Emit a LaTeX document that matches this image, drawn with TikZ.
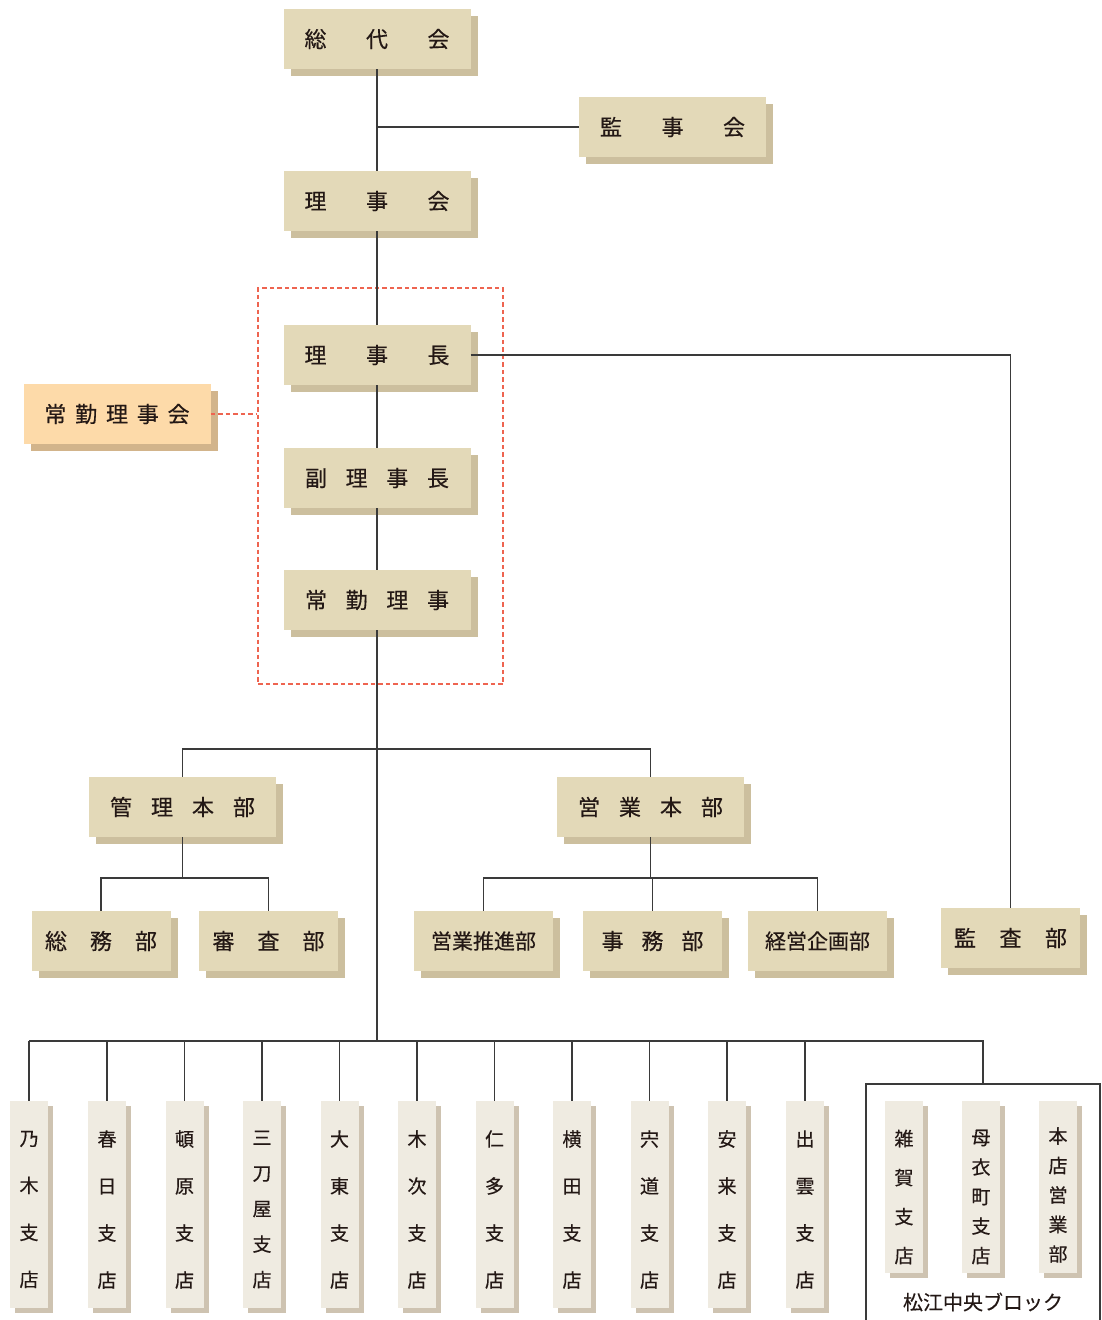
\documentclass[tikz,border=0pt]{standalone}
\usepackage{fontspec}
\newfontfamily\jp{Noto Sans CJK JP}[FakeBold=0.4]
\usetikzlibrary{shadows}
\definecolor{boxfill}{HTML}{E3D9B8}
\definecolor{boxshadow}{HTML}{CCBF9E}
\definecolor{orfill}{HTML}{FDDAA9}
\definecolor{orshadow}{HTML}{D2B48B}
\definecolor{brfill}{HTML}{EFEBE1}
\definecolor{brshadow}{HTML}{CEC3B1}
\definecolor{redd}{HTML}{EE6450}
\definecolor{linec}{HTML}{3A3A3A}
\definecolor{txt}{HTML}{231815}
\begin{document}
\begin{tikzpicture}[x=1pt,y=-1pt,
  conn/.style={draw=linec, line width=1.2pt},
  mainbox/.style={rectangle, fill=boxfill, minimum width=187pt, minimum height=60pt, inner sep=0pt, text=txt,
    font=\jp\fontsize{22}{22}\selectfont,
    general shadow={fill=boxshadow, shadow xshift=7pt, shadow yshift=-7pt}},
  subbox/.style={mainbox, minimum width=139pt},
  orbox/.style={mainbox, fill=orfill, general shadow={fill=orshadow, shadow xshift=7pt, shadow yshift=-7pt}},
  branch/.style={rectangle, fill=brfill, minimum width=38pt, minimum height=207pt, inner sep=0pt,
    general shadow={fill=brshadow, shadow xshift=5pt, shadow yshift=-5pt}},
  blockbr/.style={branch, minimum height=172pt},
  vtext/.style={inner sep=0pt, text=txt, align=center},
  redframe/.style={draw=redd, line width=1.2pt, dash pattern=on 4.5pt off 3pt}
]
\useasboundingbox (0,0) rectangle (1101,1320);

% dashed frame
\node[redframe, rectangle, minimum width=245pt, minimum height=396pt, inner sep=0pt] (frame) at (380.5,486) {};

% block frame
\node[draw=linec, line width=1.2pt, rectangle, minimum width=234pt, minimum height=246pt, inner sep=0pt] (block) at (983,1207) {};

% coordinates for junctions
\coordinate (h1) at (378,749);
\coordinate (h2) at (378,878);
\coordinate (bh) at (378,1041);

% main boxes
\node[mainbox] (sodai) at (377,39) {総\hspace{39.5pt}代\hspace{39.5pt}会};
\node[mainbox] (kanjikai) at (672.5,127) {監\hspace{39.5pt}事\hspace{39.5pt}会};
\node[mainbox] (rijikai) at (377,201) {理\hspace{39.5pt}事\hspace{39.5pt}会};
\node[mainbox] (richo) at (377,355) {理\hspace{39.5pt}事\hspace{39.5pt}長};
\node[mainbox] (fukuricho) at (377,478) {副\hspace{18.7pt}理\hspace{18.7pt}事\hspace{18.7pt}長};
\node[mainbox] (jomu) at (377,600) {常\hspace{18.7pt}勤\hspace{18.7pt}理\hspace{18.7pt}事};
\node[orbox, minimum width=187pt] (jokai) at (117,414) {常\hspace{8.8pt}勤\hspace{8.8pt}理\hspace{8.8pt}事\hspace{8.8pt}会};

\node[mainbox] (kanri) at (182.5,807) {管\hspace{19pt}理\hspace{19pt}本\hspace{19pt}部};
\node[mainbox] (eigyo) at (650.5,807) {営\hspace{19pt}業\hspace{19pt}本\hspace{19pt}部};

\node[subbox] (somu) at (101,941) {総\hspace{23pt}務\hspace{23pt}部};
\node[subbox] (shinsa) at (268.5,941) {審\hspace{23pt}査\hspace{23pt}部};
\node[subbox, font=\jp\fontsize{21}{21}\selectfont] (suishin) at (483.5,941) {営業推進部};
\node[subbox] (jimu) at (652.5,941) {事\hspace{18pt}務\hspace{18pt}部};
\node[subbox, font=\jp\fontsize{21}{21}\selectfont] (keiei) at (817.5,941) {経営企画部};
\node[subbox] (kansa) at (1010.5,938) {監\hspace{23.5pt}査\hspace{23.5pt}部};

% branches
\node[branch] (b1) at (29,1204.5) {};
\node[branch] (b2) at (107,1204.5) {};
\node[branch] (b3) at (184.5,1204.5) {};
\node[branch] (b4) at (262,1204.5) {};
\node[branch] (b5) at (339.5,1204.5) {};
\node[branch] (b6) at (417,1204.5) {};
\node[branch] (b7) at (494.5,1204.5) {};
\node[branch] (b8) at (572,1204.5) {};
\node[branch] (b9) at (649.5,1204.5) {};
\node[branch] (b10) at (727,1204.5) {};
\node[branch] (b11) at (805,1204.5) {};
\node[vtext, font=\jp\fontsize{19}{47}\selectfont] (t1) at ([yshift=-5pt]b1) {乃\\木\\支\\店};
\node[vtext, font=\jp\fontsize{19}{47}\selectfont] (t2) at ([yshift=-5pt]b2) {春\\日\\支\\店};
\node[vtext, font=\jp\fontsize{19}{47}\selectfont] (t3) at ([yshift=-5pt]b3) {頓\\原\\支\\店};
\node[vtext, font=\jp\fontsize{19}{35.5}\selectfont] (t4) at ([yshift=-5pt]b4) {三\\刀\\屋\\支\\店};
\node[vtext, font=\jp\fontsize{19}{47}\selectfont] (t5) at ([yshift=-5pt]b5) {大\\東\\支\\店};
\node[vtext, font=\jp\fontsize{19}{47}\selectfont] (t6) at ([yshift=-5pt]b6) {木\\次\\支\\店};
\node[vtext, font=\jp\fontsize{19}{47}\selectfont] (t7) at ([yshift=-5pt]b7) {仁\\多\\支\\店};
\node[vtext, font=\jp\fontsize{19}{47}\selectfont] (t8) at ([yshift=-5pt]b8) {横\\田\\支\\店};
\node[vtext, font=\jp\fontsize{19}{47}\selectfont] (t9) at ([yshift=-5pt]b9) {宍\\道\\支\\店};
\node[vtext, font=\jp\fontsize{19}{47}\selectfont] (t10) at ([yshift=-5pt]b10) {安\\来\\支\\店};
\node[vtext, font=\jp\fontsize{19}{47}\selectfont] (t11) at ([yshift=-5pt]b11) {出\\雲\\支\\店};

\node[blockbr] (z1) at (904,1187) {};
\node[blockbr] (z2) at (981,1187) {};
\node[blockbr] (z3) at (1058,1187) {};
\node[vtext, font=\jp\fontsize{19}{39}\selectfont] (u1) at ([yshift=-10pt]z1) {雑\\賀\\支\\店};
\node[vtext, font=\jp\fontsize{19}{29.5}\selectfont] (u2) at ([yshift=-10pt]z2) {母\\衣\\町\\支\\店};
\node[vtext, font=\jp\fontsize{19}{29.5}\selectfont] (u3) at ([yshift=-8pt]z3) {本\\店\\営\\業\\部};
\node[text=txt, font=\jp\fontsize{20}{20}\selectfont, inner sep=0pt] (blocklabel) at (983,1302) {松江中央ブロック};

% connectors
\draw[conn] (sodai) -- (rijikai);
\draw[conn] (kanjikai.west) -- (kanjikai.west -| sodai.south);
\draw[conn] (rijikai) -- (richo);
\draw[conn] (richo) -- (fukuricho);
\draw[conn] (fukuricho) -- (jomu);
\draw[conn] (richo.east) -| (kansa.north);
\draw[redframe] (jokai.east) -- (jokai.east -| frame.west);
\draw[conn] (jomu.south) -- (jomu.south |- bh);
\draw[conn] (kanri.north) -- (kanri.north |- h1) -- (eigyo.north |- h1) -- (eigyo.north);
\draw[conn] (kanri.south) -- (kanri.south |- h2);
\draw[conn] (somu.north) -- (somu.north |- h2) -- (shinsa.north |- h2) -- (shinsa.north);
\draw[conn] (eigyo.south) -- (eigyo.south |- h2);
\draw[conn] (suishin.north) -- (suishin.north |- h2) -- (keiei.north |- h2) -- (keiei.north);
\draw[conn] (jimu.north) -- (jimu.north |- h2);
\draw[conn] (b1.north |- bh) -- (block.north |- bh) -- (block.north);
\foreach \b in {b1,b2,b3,b4,b5,b6,b7,b8,b9,b10,b11}
  \draw[conn] (\b.north |- bh) -- (\b.north);
\end{tikzpicture}
\end{document}
